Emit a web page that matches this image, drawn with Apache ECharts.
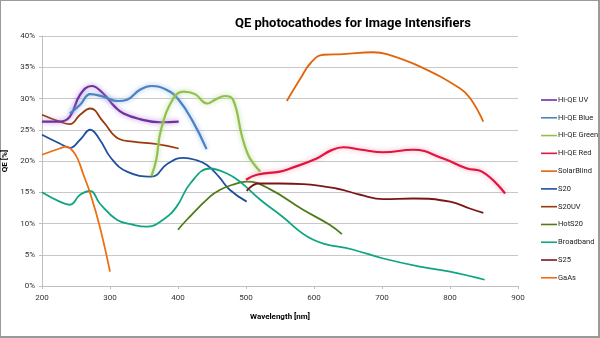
<!DOCTYPE html>
<html>
<head>
<meta charset="utf-8">
<script src="https://cdn.jsdelivr.net/npm/echarts@6/dist/echarts.min.js"></script>
<style>
html,body{margin:0;padding:0;background:#fff;}
#frame{width:600px;height:338px;box-sizing:border-box;border:1px solid #9a9a9a;border-right:2px solid #9a9a9a;border-bottom:2px solid #9a9a9a;position:absolute;left:0;top:0;}
#chart{position:absolute;left:0;top:0;width:600px;height:338px;}
</style>
</head>
<body>
<div id="frame"></div>
<div id="chart"></div>
<script>
// Wavelength [nm], QE [%]
const hiQeUV = [[200,26.3],[226,26.3],[241,27.1],[256,30.6],[273,32.0],[290,30.8],[307,28.7],[320,27.6],[344,26.7],[374,26.2],[401,26.3]];
const hiQeBlue = [[241,27.6],[256,29.0],[271,30.7],[290,30.3],[312,29.6],[325,29.8],[344,31.4],[361,32.0],[383,31.4],[401,29.8],[422,26.3],[442,21.9]];
const hiQeGreen = [[361,17.6],[368,20.2],[375,25.0],[393,30.0],[408,31.1],[425,30.7],[443,29.2],[456,29.9],[469,30.4],[481,29.8],[494,24.0],[503,21.0],[511,19.6],[521,18.3]];
const hiQeRed = [[500,17.0],[516,17.8],[550,18.3],[565,18.8],[604,20.4],[625,21.7],[643,22.2],[670,21.8],[702,21.4],[746,21.8],[790,20.4],[825,18.8],[847,18.3],[881,14.8]];
const solarBlind = [[560,29.6],[580,33.2],[596,35.8],[614,37.0],[643,37.1],[687,37.4],[707,37.1],[756,35.1],[815,31.6],[830,30.0],[849,26.3]];
const s20 = [[200,24.2],[226,22.8],[241,22.1],[256,23.4],[271,25.0],[285,23.4],[302,20.4],[325,18.3],[361,17.5],[385,19.6],[408,20.5],[425,20.2],[442,19.4],[460,17.5],[476,15.4],[501,13.5]];
const s20uv = [[200,27.4],[226,26.3],[241,25.9],[256,27.4],[271,28.4],[290,26.3],[312,23.6],[334,23.1],[369,22.7],[401,22.0]];
const hotS20 = [[400,9.0],[413,10.6],[447,14.3],[462,15.4],[480,16.2],[501,16.7],[535,15.5],[584,12.2],[623,9.8],[641,8.3]];
const broadband = [[200,15.0],[226,13.5],[241,13.0],[256,14.6],[271,15.2],[285,13.2],[310,10.6],[334,9.8],[354,9.5],[378,10.6],[398,12.7],[418,16.4],[447,18.8],[472,18.0],[491,16.7],[521,13.8],[550,11.4],[599,7.4],[658,5.8],[702,4.4],[756,3.1],[800,2.3],[851,1.0]];
const s25 = [[501,15.2],[518,16.4],[550,16.4],[584,16.3],[633,15.6],[668,14.6],[702,13.9],[746,14.0],[800,13.5],[829,12.4],[849,11.7]];
const gaAs = [[200,21.0],[226,22.0],[236,22.3],[246,21.5],[253,20.2],[261,17.8],[271,14.8],[285,9.5],[300,2.3]];

const seriesNames = ['Hi-QE UV','Hi-QE Blue','Hi-QE Green','Hi-QE Red','SolarBlind','S20','S20UV','HotS20','Broadband','S25','GaAs'];
const seriesData = [hiQeUV,hiQeBlue,hiQeGreen,hiQeRed,solarBlind,s20,s20uv,hotS20,broadband,s25,gaAs];
const colors = ['#7030a0','#4a80c4','#92c050','#e0143f','#e2640a','#1f50a0','#9a3a0c','#4f7a18','#10a582','#7c1616','#ee6e12'];
const glows = ['rgba(170,120,220,0.9)','rgba(140,180,230,0.9)','rgba(180,215,140,0.9)','rgba(245,150,170,0.9)',null,null,null,null,null,null,null];
const xTicks = {min:200,max:900,step:100};
const yTicks = {min:0,max:40,step:5};

const FONT = 'Roboto, "Liberation Sans", sans-serif';

const chart = echarts.init(document.getElementById('chart'), null, {renderer:'canvas'});
const series = seriesNames.map((n,i)=>({
  name:n, type:'line', data:seriesData[i], smooth:0.45, symbol:'none',
  lineStyle: glows[i] ? {width:2.2,color:colors[i],shadowColor:glows[i],shadowBlur:5} : {width:1.8,color:colors[i]},
  itemStyle:{color:colors[i]}, z: i<4?3:2
}));
chart.setOption({
  animation:false,
  color:colors,
  title:{text:'QE photocathodes for Image Intensifiers',left:348,textAlign:'center',top:12,
    textStyle:{fontFamily:FONT,fontWeight:'bold',fontSize:13,color:'#000'}},
  grid:{left:42,right:82,top:36,bottom:52,containLabel:false,outerBoundsMode:'none'},
  legend:{orient:'vertical',left:536,top:90,itemWidth:16,itemHeight:10,itemGap:7.78,
    icon:'path://M0,4.2 L16,4.2 L16,5.8 L0,5.8 Z',
    textStyle:{fontFamily:FONT,fontSize:7.5,color:'#222',padding:[0,0,0,-4],lineHeight:10},
    data:seriesNames},
  xAxis:{type:'value',min:xTicks.min,max:xTicks.max,interval:xTicks.step,
    name:'Wavelength [nm]',nameLocation:'middle',nameGap:27,
    nameTextStyle:{fontFamily:FONT,fontWeight:'bold',fontSize:8,color:'#000'},
    axisLine:{lineStyle:{color:'#bfbfbf',width:1}},
    axisTick:{show:true,length:3,lineStyle:{color:'#bfbfbf'}},
    axisLabel:{fontFamily:FONT,fontSize:8,color:'#333',margin:8},
    splitLine:{show:false}},
  yAxis:{type:'value',min:yTicks.min,max:yTicks.max,interval:yTicks.step,
    name:'QE [%]',nameLocation:'middle',nameGap:24,nameRotate:90,
    nameTextStyle:{fontFamily:FONT,fontWeight:'bold',fontSize:8,color:'#000'},
    axisLine:{show:true,lineStyle:{color:'#bfbfbf',width:1}},
    axisTick:{show:true,length:3,lineStyle:{color:'#bfbfbf'}},
    axisLabel:{fontFamily:FONT,fontSize:8,color:'#333',margin:7,formatter:'{value}%'},
    splitLine:{show:true,lineStyle:{color:'#c8c8c8',width:1}}},
  series:series
});
</script>
</body>
</html>
